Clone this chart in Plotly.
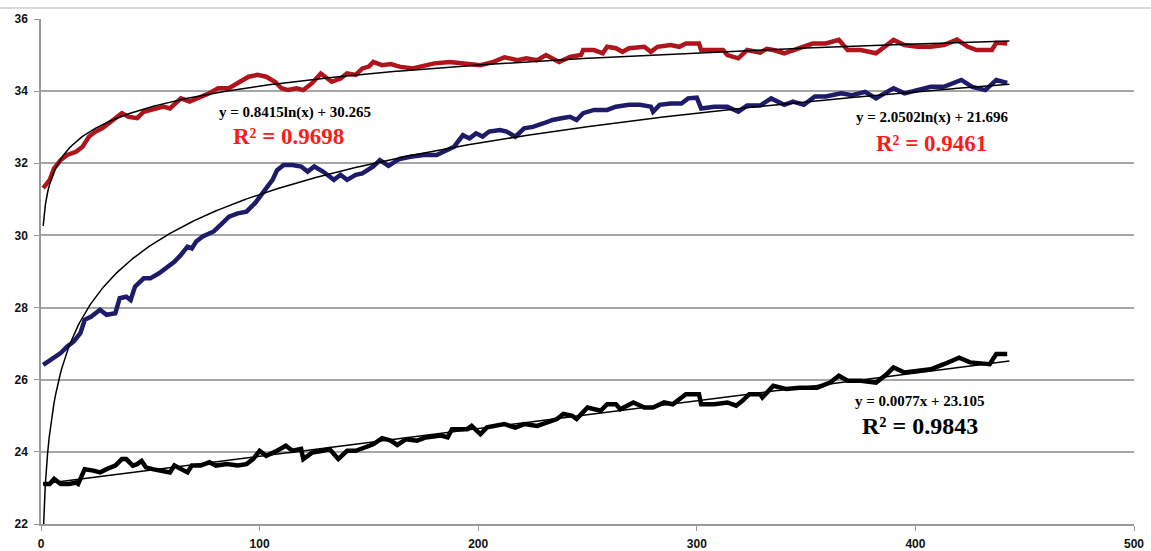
import numpy as np
import plotly.graph_objects as go

# --- measured series -------------------------------------------------------
red_x = [1, 4, 6, 9, 12, 16, 19, 22, 25, 28, 33, 37, 40, 44, 47, 51, 56, 59, 64, 68,
         73, 77, 81, 86, 91, 95, 99, 103, 107, 110, 113, 117, 120, 124, 128, 133, 137,
         140, 144, 147, 150, 152, 156, 160, 164, 170, 175, 180, 187, 195, 201, 207, 212,
         218, 222, 227, 231, 237, 242, 247, 248, 253, 257, 259, 263, 266, 269, 276, 279,
         282, 288, 292, 295, 301, 302, 308, 312, 314, 319, 323, 329, 332, 335, 340, 347,
         353, 359, 365, 369, 375, 382, 385, 390, 395, 401, 407, 413, 419, 424, 428, 435,
         437, 442]
red_y = [31.31, 31.54, 31.86, 32.09, 32.23, 32.32, 32.46, 32.74, 32.88, 32.97, 33.2,
         33.39, 33.29, 33.25, 33.43, 33.48, 33.57, 33.52, 33.8, 33.71, 33.84, 33.94, 34.08,
         34.08, 34.26, 34.4, 34.45, 34.4, 34.26, 34.08, 34.03, 34.08, 34.03, 34.22, 34.49,
         34.26, 34.35, 34.49, 34.45, 34.63, 34.68, 34.81, 34.72, 34.75, 34.68, 34.63, 34.7,
         34.77, 34.81, 34.77, 34.72, 34.81, 34.94, 34.86, 34.91, 34.86, 35.0, 34.81, 34.95,
         35.0, 35.14, 35.14, 35.05, 35.23, 35.19, 35.09, 35.19, 35.23, 35.09, 35.23, 35.28,
         35.23, 35.32, 35.32, 35.14, 35.14, 35.14, 35.0, 34.91, 35.14, 35.07, 35.17, 35.14,
         35.05, 35.19, 35.32, 35.32, 35.42, 35.14, 35.14, 35.05, 35.19, 35.42, 35.28, 35.23,
         35.23, 35.28, 35.43, 35.23, 35.14, 35.14, 35.34, 35.32]

blue_x = [1, 6, 9, 12, 15, 18, 20, 23, 27, 30, 34, 36, 39, 41, 43, 47, 50, 54, 57, 61,
          64, 67, 69, 71, 74, 79, 83, 86, 90, 94, 98, 101, 104, 106, 108, 111, 115, 119,
          122, 125, 129, 134, 137, 140, 144, 147, 152, 155, 159, 164, 169, 175, 181, 186,
          189, 193, 196, 199, 202, 205, 210, 213, 217, 221, 225, 230, 234, 238, 242, 245,
          248, 253, 259, 263, 269, 274, 279, 280, 283, 288, 293, 296, 300, 302, 308, 314,
          319, 323, 329, 334, 337, 340, 344, 349, 354, 359, 366, 371, 377, 382, 387, 390,
          395, 401, 407, 413, 421, 426, 432, 437, 442]
blue_y = [26.41, 26.6, 26.74, 26.92, 27.06, 27.29, 27.66, 27.75, 27.94, 27.8, 27.84,
          28.26, 28.3, 28.21, 28.58, 28.81, 28.81, 28.95, 29.09, 29.27, 29.46, 29.69, 29.64,
          29.83, 29.97, 30.11, 30.34, 30.52, 30.61, 30.66, 30.9, 31.15, 31.35, 31.55, 31.81,
          31.95, 31.95, 31.91, 31.77, 31.91, 31.77, 31.54, 31.68, 31.54, 31.68, 31.72, 31.91,
          32.09, 31.93, 32.12, 32.18, 32.23, 32.23, 32.37, 32.46, 32.78, 32.69, 32.83, 32.74,
          32.88, 32.92, 32.88, 32.74, 32.97, 33.01, 33.11, 33.2, 33.25, 33.29, 33.2, 33.39,
          33.48, 33.48, 33.57, 33.62, 33.62, 33.57, 33.43, 33.62, 33.66, 33.66, 33.8, 33.82,
          33.52, 33.57, 33.57, 33.43, 33.6, 33.6, 33.8, 33.7, 33.62, 33.71, 33.62, 33.85,
          33.85, 33.94, 33.89, 33.98, 33.8, 33.98, 34.08, 33.94, 34.03, 34.12, 34.12, 34.31,
          34.12, 34.03, 34.31, 34.23]

black_x = [1, 4, 6, 9, 13, 16, 17, 20, 24, 27, 30, 34, 37, 39, 42, 44, 46, 48, 51, 55,
           59, 61, 64, 67, 69, 73, 77, 80, 85, 90, 94, 97, 100, 103, 108, 112, 115, 119,
           120, 124, 129, 132, 136, 140, 144, 148, 152, 156, 160, 163, 167, 172, 176, 183,
           186, 188, 195, 197, 201, 204, 212, 217, 221, 227, 231, 236, 239, 243, 245, 248,
           250, 256, 259, 263, 265, 271, 276, 280, 285, 289, 292, 295, 301, 302, 308, 314,
           318, 321, 324, 329, 330, 335, 341, 347, 355, 361, 365, 369, 375, 382, 387, 390,
           395, 401, 407, 413, 420, 425, 431, 434, 437, 442]
black_y = [23.11, 23.11, 23.25, 23.11, 23.11, 23.15, 23.11, 23.52, 23.48, 23.43, 23.52,
           23.62, 23.8, 23.8, 23.62, 23.66, 23.75, 23.57, 23.52, 23.48, 23.43, 23.62, 23.52,
           23.43, 23.62, 23.62, 23.71, 23.62, 23.66, 23.62, 23.66, 23.8, 24.03, 23.89, 24.03,
           24.17, 24.03, 24.08, 23.8, 23.98, 24.03, 24.08, 23.8, 24.03, 24.03, 24.12, 24.21,
           24.38, 24.31, 24.19, 24.35, 24.31, 24.4, 24.45, 24.4, 24.63, 24.63, 24.72, 24.49,
           24.68, 24.77, 24.67, 24.77, 24.72, 24.81, 24.91, 25.05, 25.0, 24.91, 25.09, 25.23,
           25.14, 25.32, 25.32, 25.18, 25.37, 25.23, 25.23, 25.37, 25.32, 25.46, 25.6, 25.6,
           25.32, 25.32, 25.37, 25.28, 25.42, 25.6, 25.6, 25.51, 25.83, 25.74, 25.78, 25.78,
           25.92, 26.11, 25.97, 25.97, 25.92, 26.16, 26.34, 26.2, 26.25, 26.29, 26.43, 26.61,
           26.48, 26.43, 26.43, 26.71, 26.71]

# --- fitted trendlines (coefficients as printed on the chart) ---------------
red_fit = (0.8415, 30.265)     # y = a ln(x) + b
blue_fit = (2.0502, 21.696)    # y = a ln(x) + b
black_fit = (0.0077, 23.105)   # y = m x + c

red_eq, red_r2 = "y = 0.8415ln(x) + 30.265", "R² = 0.9698"
blue_eq, blue_r2 = "y = 2.0502ln(x) + 21.696", "R² = 0.9461"
black_eq, black_r2 = "y = 0.0077x + 23.105", "R² = 0.9843"

x_tick_vals = [0, 100, 200, 300, 400, 500]
y_tick_vals = [22, 24, 26, 28, 30, 32, 34, 36]

RED = "#b0141c"
BLUE = "#1e1b68"
BLACK = "#000000"

fit_x = np.linspace(1, 443, 800)
fit_x_log = np.concatenate([np.linspace(1, 3, 200), np.linspace(3, 443, 600)])

fig = go.Figure()

for xs, ys, col in [(red_x, red_y, RED), (blue_x, blue_y, BLUE), (black_x, black_y, BLACK)]:
    fig.add_trace(go.Scatter(x=xs, y=ys, mode="lines",
                             line=dict(color=col, width=4.5), hoverinfo="skip"))

for a, b in (red_fit, blue_fit):
    fig.add_trace(go.Scatter(x=fit_x_log, y=a * np.log(fit_x_log) + b, mode="lines",
                             line=dict(color="black", width=1.5), hoverinfo="skip"))
m, c = black_fit
fig.add_trace(go.Scatter(x=fit_x, y=m * fit_x + c, mode="lines",
                         line=dict(color="black", width=1.5), hoverinfo="skip"))

serif = "Liberation Serif, Times New Roman, serif"
labels = [
    (116, 33.42, red_eq, "black", 15),
    (113, 32.73, red_r2, "#ff1a1a", 23),
    (408, 33.28, blue_eq, "black", 15),
    (407.5, 32.56, blue_r2, "#ff1a1a", 23),
    (402, 25.42, black_eq, "black", 15),
    (402, 24.72, black_r2, "black", 24),
]
for lx, ly, txt, col, size in labels:
    fig.add_annotation(x=lx, y=ly, text="<b>%s</b>" % txt, showarrow=False,
                       font=dict(family=serif, size=size, color=col),
                       xanchor="center", yanchor="middle")

W, H = 1151, 551
ML, MR, MT, MB = 41, 17, 19, 27
plot_h = H - MT - MB

# faint rule running across the very top of the canvas
top_y = 1 + (MT - 8) / plot_h
fig.add_shape(type="line", xref="paper", yref="paper",
              x0=-ML / (W - ML - MR), x1=1 + MR / (W - ML - MR), y0=top_y, y1=top_y,
              line=dict(color="#cfcfcf", width=1.5))

tick_font = dict(family="Liberation Sans, Arial, sans-serif", size=12, color="#111111")
fig.update_layout(
    width=W, height=H,
    margin=dict(l=ML, r=MR, t=MT, b=MB, autoexpand=False),
    paper_bgcolor="white", plot_bgcolor="white",
    showlegend=False,
    xaxis=dict(range=[0, 500], tickvals=x_tick_vals,
               ticktext=["<b>%d</b>" % v for v in x_tick_vals],
               showgrid=False, zeroline=False, automargin=False,
               showline=True, linecolor="#9a9a9a", linewidth=1.5,
               ticks="outside", ticklen=5, tickcolor="#9a9a9a",
               ticklabelstandoff=3, tickfont=tick_font),
    yaxis=dict(range=[22, 36], tickvals=y_tick_vals,
               ticktext=["<b>%d</b>" % v for v in y_tick_vals],
               showgrid=True, gridcolor="#a6a6a6", gridwidth=1.5, zeroline=False,
               automargin=False,
               showline=True, linecolor="#9a9a9a", linewidth=1.5,
               ticks="outside", ticklen=5, tickcolor="#9a9a9a",
               ticklabelstandoff=4, tickfont=tick_font),
)

fig.write_html("out.html")
